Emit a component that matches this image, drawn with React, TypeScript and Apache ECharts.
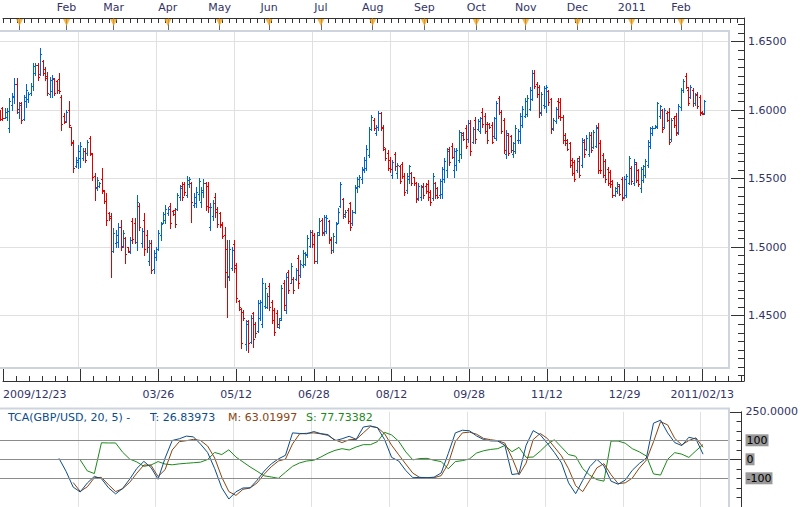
import { useEffect, useRef } from 'react';
import * as echarts from 'echarts';

// GBP/USD daily bars, each [open, high, low, close]
const dec2009 = [
  [1.5995, 1.6001, 1.5928, 1.5935], [1.6015, 1.6026, 1.5928, 1.594], [1.5945, 1.6013, 1.594, 1.599],
  [1.595, 1.6013, 1.5928, 1.5995], [1.587, 1.6086, 1.5843, 1.607], [1.604, 1.6123, 1.6001, 1.6105],
  [1.61, 1.6237, 1.6055, 1.619],
];
const jan2010 = [
  [1.619, 1.6232, 1.5977, 1.601], [1.599, 1.6062, 1.594, 1.604], [1.605, 1.6062, 1.5904, 1.5925],
  [1.5935, 1.6111, 1.5928, 1.61], [1.607, 1.6191, 1.6021, 1.6145], [1.608, 1.6135, 1.6062, 1.612],
  [1.6125, 1.6196, 1.6111, 1.618], [1.6175, 1.6342, 1.6147, 1.632], [1.627, 1.6347, 1.6257, 1.633],
  [1.633, 1.6342, 1.622, 1.624], [1.6265, 1.6451, 1.6257, 1.641], [1.636, 1.6366, 1.6257, 1.6275],
  [1.63, 1.6318, 1.622, 1.6235], [1.625, 1.6281, 1.6111, 1.6125], [1.612, 1.6245, 1.6099, 1.622],
  [1.614, 1.6257, 1.6099, 1.6235], [1.6225, 1.6232, 1.6111, 1.6125], [1.621, 1.622, 1.6123, 1.615],
  [1.623, 1.6269, 1.6123, 1.614], [1.61, 1.6111, 1.5855, 1.59],
];
const feb2010 = [
  [1.596, 1.5977, 1.5904, 1.5915], [1.592, 1.6001, 1.5916, 1.599], [1.6, 1.6069, 1.588, 1.589],
  [1.5875, 1.588, 1.5746, 1.576], [1.577, 1.5782, 1.5551, 1.558], [1.5595, 1.5661, 1.5588, 1.564],
  [1.562, 1.5746, 1.5575, 1.57], [1.565, 1.577, 1.5583, 1.574], [1.565, 1.5721, 1.5636, 1.57],
  [1.5705, 1.5721, 1.5624, 1.564], [1.569, 1.5782, 1.5673, 1.577], [1.58, 1.5811, 1.5673, 1.569],
  [1.568, 1.5685, 1.549, 1.551], [1.552, 1.5539, 1.5344, 1.544], [1.543, 1.5515, 1.5417, 1.549],
  [1.545, 1.5478, 1.5442, 1.547], [1.55, 1.5575, 1.5393, 1.542], [1.541, 1.5417, 1.532, 1.5335],
  [1.534, 1.5393, 1.5162, 1.52], [1.525, 1.5259, 1.5198, 1.521],
];
const mar2010 = [
  [1.523, 1.5247, 1.4785, 1.497], [1.4975, 1.5138, 1.4967, 1.51], [1.503, 1.5125, 1.5004, 1.509],
  [1.504, 1.5174, 1.5004, 1.515], [1.515, 1.5198, 1.4979, 1.5], [1.501, 1.5125, 1.5004, 1.51],
  [1.507, 1.5077, 1.4882, 1.495], [1.5, 1.5004, 1.4967, 1.4975], [1.4965, 1.5077, 1.4955, 1.505],
  [1.519, 1.5211, 1.5028, 1.506], [1.518, 1.5211, 1.5028, 1.504], [1.504, 1.5381, 1.4979, 1.533],
  [1.53, 1.532, 1.5125, 1.515], [1.503, 1.5138, 1.5004, 1.512], [1.52, 1.5247, 1.4943, 1.499],
  [1.509, 1.5125, 1.4967, 1.5], [1.49, 1.5052, 1.487, 1.503], [1.503, 1.5052, 1.4809, 1.483],
  [1.484, 1.4979, 1.4809, 1.496], [1.493, 1.5004, 1.4906, 1.499], [1.499, 1.5125, 1.4979, 1.51],
  [1.509, 1.5186, 1.5052, 1.517], [1.518, 1.5259, 1.5174, 1.524],
];
const apr2010 = [
  [1.52, 1.5308, 1.5174, 1.528], [1.525, 1.5296, 1.5235, 1.528], [1.53, 1.532, 1.5138, 1.518],
  [1.5265, 1.5271, 1.5235, 1.5245], [1.527, 1.5284, 1.515, 1.517], [1.528, 1.5393, 1.5271, 1.538],
  [1.537, 1.5454, 1.5344, 1.543], [1.545, 1.5478, 1.5344, 1.537], [1.546, 1.5478, 1.5381, 1.54],
  [1.538, 1.5522, 1.5369, 1.549], [1.546, 1.5515, 1.5442, 1.55], [1.547, 1.5478, 1.5186, 1.533],
  [1.531, 1.5393, 1.5296, 1.537], [1.532, 1.5442, 1.5296, 1.54], [1.539, 1.5502, 1.5344, 1.548],
  [1.533, 1.5442, 1.5296, 1.542], [1.54, 1.5495, 1.5369, 1.547], [1.547, 1.5478, 1.5271, 1.53],
  [1.545, 1.5478, 1.5259, 1.529], [1.515, 1.532, 1.5125, 1.529], [1.523, 1.5344, 1.5198, 1.532],
  [1.537, 1.5393, 1.5223, 1.526],
];
const may2010 = [
  [1.528, 1.5296, 1.515, 1.517], [1.525, 1.5259, 1.515, 1.516], [1.517, 1.5186, 1.5064, 1.508],
  [1.509, 1.515, 1.4712, 1.482], [1.499, 1.5052, 1.4493, 1.478], [1.479, 1.5052, 1.476, 1.499],
  [1.485, 1.5004, 1.4833, 1.498], [1.502, 1.5052, 1.4821, 1.485], [1.487, 1.4882, 1.4602, 1.463],
  [1.461, 1.4614, 1.4541, 1.456], [1.455, 1.4553, 1.4261, 1.43], [1.453, 1.4541, 1.4468, 1.448],
  [1.429, 1.4468, 1.425, 1.444], [1.446, 1.4468, 1.4237, 1.43], [1.431, 1.4505, 1.4298, 1.448],
  [1.452, 1.4529, 1.4274, 1.433], [1.444, 1.4456, 1.4347, 1.437], [1.439, 1.4614, 1.4383, 1.459],
  [1.448, 1.4614, 1.4468, 1.46], [1.444, 1.4772, 1.442, 1.474], [1.457, 1.4736, 1.4553, 1.47],
];
const jun2010 = [
  [1.456, 1.4663, 1.4553, 1.464], [1.472, 1.4736, 1.4541, 1.456], [1.46, 1.4614, 1.4444, 1.447],
  [1.454, 1.4553, 1.4359, 1.438], [1.452, 1.4541, 1.442, 1.444], [1.442, 1.448, 1.4407, 1.447],
  [1.448, 1.4724, 1.4468, 1.47], [1.474, 1.476, 1.4541, 1.458], [1.454, 1.4809, 1.4517, 1.478],
  [1.482, 1.4833, 1.4663, 1.469], [1.474, 1.4882, 1.4736, 1.486], [1.477, 1.4785, 1.4663, 1.469],
  [1.477, 1.4845, 1.476, 1.483], [1.492, 1.4943, 1.4699, 1.474], [1.48, 1.4906, 1.4785, 1.488],
  [1.487, 1.4979, 1.4858, 1.496], [1.488, 1.4967, 1.487, 1.495], [1.494, 1.5089, 1.4931, 1.507],
  [1.501, 1.5125, 1.5004, 1.511], [1.511, 1.5125, 1.5004, 1.502], [1.509, 1.5101, 1.4882, 1.49],
  [1.49, 1.5113, 1.4882, 1.509],
];
const jul2010 = [
  [1.511, 1.521, 1.5089, 1.519], [1.52, 1.521, 1.5089, 1.511], [1.51, 1.5235, 1.5089, 1.522],
  [1.512, 1.5235, 1.5101, 1.521], [1.519, 1.5198, 1.5028, 1.505], [1.506, 1.5076, 1.4955, 1.498],
  [1.498, 1.5101, 1.4967, 1.508], [1.504, 1.5186, 1.5028, 1.517], [1.518, 1.5283, 1.5174, 1.526],
  [1.53, 1.5478, 1.5296, 1.546], [1.535, 1.5356, 1.521, 1.524], [1.523, 1.5271, 1.5223, 1.526],
  [1.527, 1.5283, 1.5174, 1.519], [1.532, 1.5332, 1.5125, 1.515], [1.518, 1.5271, 1.5162, 1.526],
  [1.526, 1.5454, 1.5247, 1.544], [1.543, 1.5514, 1.5405, 1.55], [1.545, 1.5527, 1.5441, 1.551],
  [1.55, 1.5587, 1.5466, 1.557], [1.556, 1.566, 1.5551, 1.564], [1.558, 1.5746, 1.5563, 1.572],
  [1.567, 1.5879, 1.566, 1.586],
];
const aug2010 = [
  [1.586, 1.5965, 1.5855, 1.595], [1.593, 1.594, 1.5855, 1.587], [1.583, 1.5892, 1.5819, 1.588],
  [1.588, 1.5994, 1.5855, 1.598], [1.598, 1.5989, 1.5855, 1.587], [1.588, 1.5892, 1.5709, 1.573],
  [1.572, 1.5721, 1.5636, 1.565], [1.569, 1.5709, 1.5563, 1.558], [1.564, 1.566, 1.5551, 1.557],
  [1.553, 1.5636, 1.5502, 1.562], [1.568, 1.5697, 1.5563, 1.559], [1.554, 1.5612, 1.5502, 1.56],
  [1.559, 1.56, 1.5466, 1.548], [1.561, 1.5624, 1.5502, 1.552], [1.552, 1.5539, 1.5381, 1.54],
  [1.542, 1.5539, 1.5393, 1.552], [1.55, 1.56, 1.5466, 1.559], [1.554, 1.5551, 1.5454, 1.547],
  [1.551, 1.5514, 1.5454, 1.547], [1.547, 1.5478, 1.5332, 1.535], [1.536, 1.5466, 1.5344, 1.545],
  [1.537, 1.5454, 1.5344, 1.544],
];
const sep2010 = [
  [1.545, 1.5466, 1.5356, 1.538], [1.545, 1.5466, 1.5393, 1.541], [1.546, 1.549, 1.5344, 1.537],
  [1.54, 1.5417, 1.5308, 1.533], [1.536, 1.5539, 1.5344, 1.552], [1.547, 1.5478, 1.5356, 1.538],
  [1.543, 1.5441, 1.5356, 1.537], [1.538, 1.5495, 1.5356, 1.548], [1.539, 1.5587, 1.5356, 1.557],
  [1.55, 1.5648, 1.5478, 1.563], [1.556, 1.5721, 1.5514, 1.57], [1.572, 1.5733, 1.56, 1.562],
  [1.574, 1.5758, 1.5648, 1.566], [1.556, 1.5721, 1.5514, 1.57], [1.56, 1.5721, 1.5563, 1.571],
  [1.564, 1.5855, 1.5624, 1.584], [1.568, 1.5843, 1.5648, 1.582], [1.583, 1.5843, 1.5782, 1.579],
  [1.587, 1.5892, 1.5721, 1.574], [1.579, 1.5928, 1.577, 1.591], [1.591, 1.5928, 1.5673, 1.57],
  [1.577, 1.5879, 1.5758, 1.586],
];
const oct2010 = [
  [1.593, 1.5952, 1.5758, 1.579], [1.586, 1.5933, 1.5855, 1.592], [1.585, 1.5952, 1.5831, 1.594],
  [1.599, 1.6013, 1.5879, 1.59], [1.596, 1.5977, 1.5831, 1.585], [1.59, 1.5916, 1.5758, 1.578],
  [1.59, 1.5904, 1.5867, 1.5875], [1.589, 1.5916, 1.5758, 1.577], [1.581, 1.5952, 1.5795, 1.594],
  [1.58, 1.6067, 1.5782, 1.605], [1.609, 1.6103, 1.5972, 1.599], [1.599, 1.6001, 1.5836, 1.585],
  [1.593, 1.594, 1.5685, 1.571], [1.568, 1.5855, 1.5653, 1.583], [1.582, 1.5831, 1.5673, 1.569],
  [1.581, 1.5819, 1.5697, 1.571], [1.568, 1.577, 1.566, 1.576], [1.57, 1.5892, 1.5685, 1.587],
  [1.578, 1.586, 1.5758, 1.585], [1.578, 1.5977, 1.5758, 1.596], [1.589, 1.603, 1.5879, 1.601],
];
const nov2010 = [
  [1.596, 1.6086, 1.5948, 1.607], [1.597, 1.6111, 1.5957, 1.609], [1.601, 1.6171, 1.6001, 1.615],
  [1.608, 1.6293, 1.6074, 1.627], [1.627, 1.6293, 1.6159, 1.618], [1.619, 1.6208, 1.6098, 1.612],
  [1.617, 1.6184, 1.5952, 1.598], [1.599, 1.6135, 1.5965, 1.612], [1.604, 1.6176, 1.6013, 1.616],
  [1.603, 1.6184, 1.5989, 1.617], [1.614, 1.6147, 1.6038, 1.606], [1.608, 1.6086, 1.5836, 1.586],
  [1.587, 1.594, 1.5855, 1.593], [1.592, 1.6025, 1.5904, 1.601], [1.607, 1.6086, 1.594, 1.596],
  [1.606, 1.6086, 1.5928, 1.595], [1.595, 1.5965, 1.5758, 1.578], [1.582, 1.5831, 1.5746, 1.576],
  [1.578, 1.5787, 1.5709, 1.572], [1.576, 1.577, 1.5583, 1.56], [1.564, 1.5648, 1.5527, 1.554],
  [1.562, 1.5636, 1.5485, 1.55],
];
const dec2010 = [
  [1.556, 1.5648, 1.5551, 1.563], [1.565, 1.5665, 1.5514, 1.553], [1.56, 1.5794, 1.5583, 1.578],
  [1.577, 1.5787, 1.566, 1.568], [1.572, 1.5819, 1.5709, 1.58], [1.568, 1.5843, 1.5665, 1.582],
  [1.582, 1.5843, 1.5697, 1.571], [1.573, 1.5855, 1.5721, 1.584], [1.574, 1.5892, 1.5729, 1.587],
  [1.588, 1.5909, 1.5539, 1.556], [1.576, 1.5782, 1.5539, 1.556], [1.567, 1.5685, 1.5514, 1.553],
  [1.563, 1.5641, 1.5478, 1.55], [1.557, 1.5583, 1.5454, 1.547], [1.555, 1.5563, 1.5441, 1.546],
  [1.548, 1.549, 1.5364, 1.538], [1.538, 1.5441, 1.5373, 1.543], [1.541, 1.5478, 1.5398, 1.546],
  [1.545, 1.5461, 1.5381, 1.539], [1.55, 1.5514, 1.5344, 1.536], [1.537, 1.5519, 1.5356, 1.55],
  [1.538, 1.5534, 1.5369, 1.552], [1.547, 1.5665, 1.5461, 1.565],
];
const jan2011 = [
  [1.558, 1.5592, 1.5461, 1.548], [1.547, 1.5641, 1.5454, 1.562], [1.561, 1.5624, 1.5478, 1.549],
  [1.556, 1.5568, 1.5446, 1.546], [1.543, 1.5583, 1.5405, 1.557], [1.549, 1.56, 1.5478, 1.559],
  [1.553, 1.5641, 1.5514, 1.563], [1.56, 1.5782, 1.5587, 1.577], [1.574, 1.5879, 1.5721, 1.587],
  [1.583, 1.5884, 1.5819, 1.587], [1.587, 1.5892, 1.5867, 1.5885], [1.588, 1.6062, 1.5867, 1.605],
  [1.596, 1.6038, 1.594, 1.603], [1.6, 1.6006, 1.5843, 1.586], [1.588, 1.6013, 1.5867, 1.6],
  [1.598, 1.5996, 1.5923, 1.593], [1.599, 1.6013, 1.5753, 1.577], [1.579, 1.594, 1.5777, 1.593],
  [1.594, 1.5957, 1.5879, 1.589], [1.596, 1.5977, 1.5819, 1.583], [1.584, 1.6045, 1.5826, 1.603],
];
const feb2011 = [
  [1.602, 1.6159, 1.6001, 1.615], [1.615, 1.6225, 1.6135, 1.621], [1.625, 1.6269, 1.6159, 1.617],
  [1.615, 1.6167, 1.6038, 1.605], [1.61, 1.6184, 1.6086, 1.617], [1.615, 1.6159, 1.603, 1.605],
  [1.605, 1.6123, 1.6038, 1.611], [1.612, 1.6132, 1.6013, 1.603], [1.61, 1.6111, 1.5965, 1.598],
  [1.599, 1.5996, 1.5972, 1.5975], [1.598, 1.6074, 1.5972, 1.60655],
];

// Bottom date labels, one every LABEL_STEP bars
const dateLabels = ['2009/12/23', '', '03/26', '05/12', '06/28', '08/12', '09/28', '11/12', '12/29', '2011/02/13'];
const LABEL_STEP = 33;
// Top ruler: first bar of each month and its caption
const monthStarts = [7, 27, 47, 70, 92, 113, 135, 157, 179, 201, 222, 244, 267, 288];
const monthLabels = ['', 'Feb', 'Mar', 'Apr', 'May', 'Jun', 'Jul', 'Aug', 'Sep', 'Oct', 'Nov', 'Dec', '2011', 'Feb'];

// TCA(GBP/USD, 20, 5) indicator, one value every TCA_STEP bars
const TCA_STEP = 3;
const T_FIRST = 25;
const tcaT = [
  5, -63, -146, -172, -125, -90, -102, -150, -182, -153, -104, -48, -11, -43, -105, 7, 99, 108, 122, 118,
  80, 36, -49, -150, -209, -171, -151, -150, -110, -62, -24, 2, 21, 139, 136, 134, 146, 135, 130, 98,
  108, 121, 105, 170, 176, 166, 104, 10, -9, -59, -97, -95, -97, -94, -72, 30, 139, 153, 150, 123,
  104, 97, 96, 74, -80, -75, 74, 151, 129, 84, 36, -19, -124, -181, -111, -39, 0, -35, -115, -131,
  -110, -58, -22, 7, 190, 206, 139, 88, 72, 116, 107, 26.83973,
];
const M_FIRST = 31;
const tcaM = [
  -122, -169, -145, -97, -95, -134, -170, -155, -121, -73, -30, -31, -91, -54, 49, 93, 98, 105, 99, 70,
  7, -94, -170, -190, -158, -151, -124, -78, -39, -9, 1, 81, 134, 137, 139, 134, 126, 102, 88, 103,
  105, 139, 173, 167, 135, 74, 24, -25, -73, -96, -97, -97, -86, -23, 93, 139, 143, 132, 110, 103,
  98, 85, 9, -82, -20, 104, 136, 110, 64, 18, -50, -139, -170, -110, -45, -23, -81, -128, -124, -99,
  -46, -4, 92, 198, 181, 110, 76, 99, 113, 63.01997,
];
const S_FIRST = 34;
const tcaS = [
  -3, -61, -75, 87, 86, 86, 37, 1, -14, -37, -30, -12, -25, -29, -24, -21, -18, -15, -1, 36,
  25, 50, 12, -14, -40, -63, -87, -93, -100, -68, -37, -19, -9, -5, 12, 32, 47, 56, 49, 65,
  77, 77, 93, 142, 128, 95, 39, -3, 4, 5, -5, -12, -50, -12, -7, 2, 33, 45, 52, 56,
  73, 40, 63, 10, 12, 43, 79, 103, 64, 25, 16, -49, -84, -107, -115, 96, 96, 85, 56, 39,
  17, -77, -83, 0, 35, 27, 10, 45, 77.73382,
];
const tcaLevels = [100, 0, -100];

const FONT = '"DejaVu Sans", Verdana, sans-serif';
const NAVY = '#333366';
const UP = '#0066cc';
const DOWN = '#e00000';
const GRID_LINE = '#e0e0e0';
const FRAME = '#cdd4de';
const AXIS = '#333333';
const T_COLOR = '#0b4c8c';
const M_COLOR = '#8b4510';
const S_COLOR = '#1a8a1a';

const PX_PER_BAR = 2.364;
const PLOT_W = 730;
const RULER_W = 744;

const bars = [
  ...dec2009, ...jan2010, ...feb2010, ...mar2010, ...apr2010, ...may2010, ...jun2010,
  ...jul2010, ...aug2010, ...sep2010, ...oct2010, ...nov2010, ...dec2010, ...jan2011, ...feb2011,
];

// One OHLC bar: high-low stem, open tick on the left, close tick on the right
function renderOhlc(_params: any, api: any) {
  const idx = api.value(0);
  const o = api.value(1);
  const h = api.value(2);
  const l = api.value(3);
  const c = api.value(4);
  const color = c >= o ? UP : DOWN;
  const top = api.coord([idx, h]);
  const yl = api.coord([idx, l])[1];
  const yo = Math.round(api.coord([idx, o])[1]) + 0.5;
  const yc = Math.round(api.coord([idx, c])[1]) + 0.5;
  const px = Math.round(top[0]);
  const y1 = Math.round(top[1]);
  const y2 = Math.max(Math.round(yl) + 1, y1 + 1);
  const cx = px + 0.5;
  const d = `M${cx} ${y1}V${y2}M${px - 1} ${yo}H${cx}M${cx} ${yc}H${px + 2}`;
  return {
    type: 'path',
    shape: { pathData: d },
    style: { stroke: color, fill: 'none', lineWidth: 1 },
  };
}

const points = (vals: number[], first: number) => vals.map((v, k) => [first + k * TCA_STEP, v]);

export default function App() {
  const ref = useRef<HTMLDivElement>(null);

  useEffect(() => {
    const chart = echarts.init(ref.current!, null, { renderer: 'svg' });
    const plotMax = PLOT_W / PX_PER_BAR;
    const rulerMax = RULER_W / PX_PER_BAR;
    const lastClose = bars[bars.length - 1][3];
    const label11 = { fontFamily: FONT, fontSize: 11 };
    const hidden = { show: false };

    const option: any = {
      animation: false,
      backgroundColor: '#ffffff',
      textStyle: { fontFamily: FONT },
      grid: [
        { left: 0, top: 32, width: PLOT_W, height: 336 },
        { left: 0, top: 18, width: RULER_W, height: 363 },
        { left: 0, top: 411.8, width: PLOT_W, height: 95 },
      ],
      xAxis: [
        {
          gridIndex: 0, type: 'value', min: 0, max: plotMax, interval: LABEL_STEP,
          axisLine: hidden, axisTick: hidden, axisLabel: hidden,
          splitLine: { show: true, showMinLine: false, showMaxLine: false, lineStyle: { color: GRID_LINE } },
        },
        {
          gridIndex: 1, type: 'value', position: 'bottom', min: 0, max: rulerMax, interval: LABEL_STEP,
          axisLine: { onZero: false, lineStyle: { color: AXIS } },
          axisTick: { inside: true, length: 12, lineStyle: { color: AXIS } },
          minorTick: { show: true, splitNumber: 6, length: 5, lineStyle: { color: AXIS } },
          axisLabel: {
            ...label11, color: NAVY, margin: 8, showMaxLabel: false, alignMinLabel: 'left',
            formatter: (v: number) => {
              const k = Math.round(v / LABEL_STEP);
              return Math.abs(v - k * LABEL_STEP) < 0.01 ? dateLabels[k] ?? '' : '';
            },
          },
          splitLine: hidden,
        },
        {
          gridIndex: 1, type: 'value', position: 'top', min: 0, max: rulerMax,
          axisLine: { onZero: false, lineStyle: { color: AXIS } },
          axisTick: { customValues: monthStarts, inside: true, length: 13, lineStyle: { color: '#666666' } },
          axisLabel: {
            ...label11, color: NAVY, margin: 5, customValues: monthStarts,
            formatter: (v: number) => {
              const k = monthStarts.indexOf(Math.round(v));
              return k >= 0 ? monthLabels[k] : '';
            },
          },
          splitLine: hidden,
        },
        {
          gridIndex: 1, type: 'value', position: 'top', offset: 0, min: 0, max: rulerMax, interval: 3,
          axisLine: { show: false, onZero: false },
          axisTick: { inside: true, length: 5, lineStyle: { color: AXIS } },
          axisLabel: hidden, splitLine: hidden,
        },
        {
          gridIndex: 2, type: 'value', min: 0, max: plotMax, interval: LABEL_STEP,
          axisLine: { show: false, onZero: false }, axisTick: hidden, axisLabel: hidden,
          splitLine: { show: true, showMinLine: false, showMaxLine: false, lineStyle: { color: GRID_LINE } },
        },
      ],
      yAxis: [
        {
          gridIndex: 0, type: 'value', min: 1.4118, max: 1.6571,
          axisLine: hidden, axisTick: hidden, axisLabel: hidden,
          splitLine: { show: true, showMinLine: false, showMaxLine: false, lineStyle: { color: GRID_LINE } },
        },
        {
          gridIndex: 1, type: 'value', position: 'right', min: 1.4023, max: 1.6673,
          axisLine: { show: true, onZero: false, lineStyle: { color: AXIS } },
          axisTick: { inside: true, length: 13, lineStyle: { color: AXIS } },
          minorTick: { show: true, splitNumber: 8, length: 6, lineStyle: { color: AXIS } },
          axisLabel: {
            ...label11, color: NAVY, margin: 4, showMinLabel: false, showMaxLabel: false,
            formatter: (v: number) => v.toFixed(4),
          },
          splitLine: hidden,
        },
        {
          gridIndex: 2, type: 'value', position: 'right', offset: 13, min: -250, max: 250, interval: 250,
          axisLine: { show: true, onZero: false, lineStyle: { color: AXIS } },
          axisTick: { inside: true, length: 13, lineStyle: { color: AXIS } },
          minorTick: { show: true, splitNumber: 5, length: 5, lineStyle: { color: AXIS } },
          axisLabel: { ...label11, color: NAVY, margin: 4, formatter: (v: number) => (v === 250 ? '250.0000' : '') },
          splitLine: hidden,
        },
      ],
      series: [
        {
          type: 'custom', xAxisIndex: 0, yAxisIndex: 0, silent: true, clip: false,
          renderItem: renderOhlc,
          encode: { x: 0, y: [1, 2, 3, 4] },
          data: bars.map((b, i) => [i, b[0], b[1], b[2], b[3]]),
          markLine: {
            silent: true, symbol: 'none',
            lineStyle: { opacity: 0 },
            label: {
              show: true, position: 'end', distance: 15, ...label11, color: '#000000',
              backgroundColor: '#66ccff', padding: [2, 2, 1, 2],
              formatter: () => lastClose.toFixed(5),
            },
            data: [{ yAxis: lastClose }],
          },
        },
        {
          type: 'scatter', xAxisIndex: 2, yAxisIndex: 1, silent: true, clip: false,
          symbol: 'path://M0,0L10,0L5,9Z', symbolSize: [7, 7], symbolOffset: [0, 4.5],
          itemStyle: { color: '#f5a41c' },
          data: monthStarts.map((m) => [m, 1.6673]),
          z: 5,
        },
        {
          type: 'line', xAxisIndex: 4, yAxisIndex: 2, silent: true, symbol: 'none',
          lineStyle: { color: S_COLOR, width: 1 }, itemStyle: { color: S_COLOR },
          data: points(tcaS, S_FIRST), z: 2,
          markLine: {
            silent: true, symbol: 'none',
            lineStyle: { color: '#8c8c8c', width: 1, type: 'solid' },
            label: {
              show: true, position: 'end', distance: 17, ...label11, color: '#000000',
              backgroundColor: '#999999', padding: [1, 1, 0, 1],
              formatter: (p: any) => String(p.value),
            },
            data: tcaLevels.map((v) => ({ yAxis: v })),
          },
        },
        {
          type: 'line', xAxisIndex: 4, yAxisIndex: 2, silent: true, symbol: 'none',
          lineStyle: { color: M_COLOR, width: 1 }, itemStyle: { color: M_COLOR },
          data: points(tcaM, M_FIRST), z: 3,
        },
        {
          type: 'line', xAxisIndex: 4, yAxisIndex: 2, silent: true, symbol: 'none',
          lineStyle: { color: T_COLOR, width: 1 }, itemStyle: { color: T_COLOR },
          data: points(tcaT, T_FIRST), z: 4,
        },
      ],
      graphic: [
        {
          type: 'rect', silent: true, z: 100,
          shape: { x: -1, y: 31, width: 730, height: 337 },
          style: { fill: 'none', stroke: FRAME, lineWidth: 2 },
        },
        {
          type: 'rect', silent: true, z: 100,
          shape: { x: -1, y: 408.5, width: 730, height: 120 },
          style: { fill: 'none', stroke: FRAME, lineWidth: 2 },
        },
        {
          type: 'text', x: 8, y: 417, silent: true, z: 100,
          style: { text: 'TCA(GBP/USD, 20, 5) -', fill: T_COLOR, font: `11px ${FONT}`, verticalAlign: 'middle' },
        },
        {
          type: 'text', x: 150, y: 417, silent: true, z: 100,
          style: { text: `T: ${tcaT[tcaT.length - 1].toFixed(5)}`, fill: T_COLOR, font: `11px ${FONT}`, verticalAlign: 'middle' },
        },
        {
          type: 'text', x: 228, y: 417, silent: true, z: 100,
          style: { text: `M: ${tcaM[tcaM.length - 1].toFixed(5)}`, fill: M_COLOR, font: `11px ${FONT}`, verticalAlign: 'middle' },
        },
        {
          type: 'text', x: 306, y: 417, silent: true, z: 100,
          style: { text: `S: ${tcaS[tcaS.length - 1].toFixed(5)}`, fill: S_COLOR, font: `11px ${FONT}`, verticalAlign: 'middle' },
        },
      ],
    };

    chart.setOption(option);
    return () => chart.dispose();
  }, []);

  return <div ref={ref} style={{ position: 'absolute', left: 0, top: 0, width: 801, height: 507 }} />;
}
